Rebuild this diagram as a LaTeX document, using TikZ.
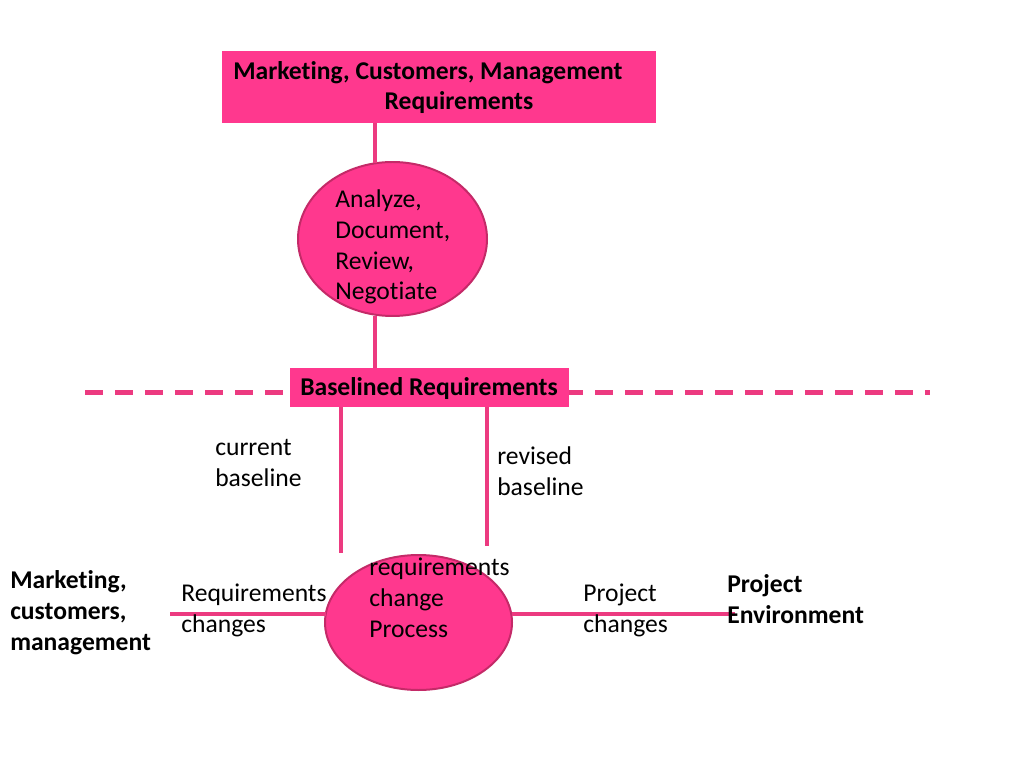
\documentclass[tikz,border=0pt]{standalone}
\usepackage{fontspec}
\setmainfont{Carlito}[Ligatures=NoCommon]
\usetikzlibrary{shapes.geometric}
\definecolor{pinkfill}{RGB}{255,56,142}
\definecolor{pinkline}{RGB}{236,58,128}
\definecolor{pinkedge}{RGB}{196,42,104}
\tikzset{
  x=0.703125pt, y=-0.703125pt,
  pbox/.style={fill=pinkfill, draw=none, inner sep=0pt},
  pell/.style={ellipse, fill=pinkfill, draw=pinkedge, line width=1.4pt, inner sep=0pt},
  conn/.style={draw=pinkline, line width=2.5pt},
  dashline/.style={draw=pinkline, line width=2.9pt, dash pattern=on 12.7pt off 8.4pt},
  txt/.style={font=\fontsize{18}{21.6}\selectfont, inner sep=0pt, align=left, anchor=base west},
  btxt/.style={txt, font=\fontsize{18}{21.6}\selectfont\bfseries},
}
\begin{document}
\begin{tikzpicture}
\useasboundingbox (0,0) rectangle (1024,768);
% dashed baseline
\coordinate (dl) at (85,392.5);
\coordinate (dr) at (930,392.5);
\draw[dashline] (dl) -- (dr);
% boxes
\node[pbox, minimum width=434*0.703125pt, minimum height=72*0.703125pt] (top) at (439,87) {};
\node[pbox, minimum width=279*0.703125pt, minimum height=39*0.703125pt] (base) at (429.5,387.5) {};
% ellipses
\node[pell, minimum width=189*0.703125pt, minimum height=154*0.703125pt] (e1) at (392.5,239) {};
\node[pell, minimum width=187*0.703125pt, minimum height=135*0.703125pt] (e2) at (418.5,622.5) {};
% connectors
\coordinate (t1) at (375,123);
\coordinate (t2) at (375,163);
\coordinate (t3) at (375,316);
\coordinate (t4) at (375,368);
\draw[conn] (t1) -- (t2);
\draw[conn] (t3) -- (t4);
\coordinate (c1) at (341,407);
\coordinate (c2) at (341,553);
\coordinate (r1) at (487,407);
\coordinate (r2) at (487,546);
\draw[conn] (c1) -- (c2);
\draw[conn] (r1) -- (r2);
\coordinate (hl) at (170,614);
\coordinate (hle) at (326,614);
\coordinate (hr) at (512,614);
\coordinate (hre) at (735,614);
\draw[conn] (hl) -- (hle);
\draw[conn] (hr) -- (hre);
% texts
\node[btxt] (tt1) at (233,80) {Marketing, Customers, Management};
\node[btxt, anchor=base] (tt2) at (459,110) {Requirements};
\node[btxt, anchor=base] (bt) at (429,395) {Baselined Requirements};
\node[txt] (a1) at (335,300) {Analyze,\\Document,\\Review,\\Negotiate};
\node[txt] (cb) at (215,486) {current\\baseline};
\node[txt] (rb) at (497,495) {revised\\baseline};
\node[btxt] (mcm) at (10,650) {Marketing,\\customers,\\management};
\node[txt] (rc) at (181,632) {Requirements\\changes};
\node[txt] (rcp) at (369,637) {requirements\\change\\Process};
\node[txt] (pc) at (583,632) {Project\\changes};
\node[btxt] (pe) at (727,623) {Project\\Environment};
\end{tikzpicture}
\end{document}
